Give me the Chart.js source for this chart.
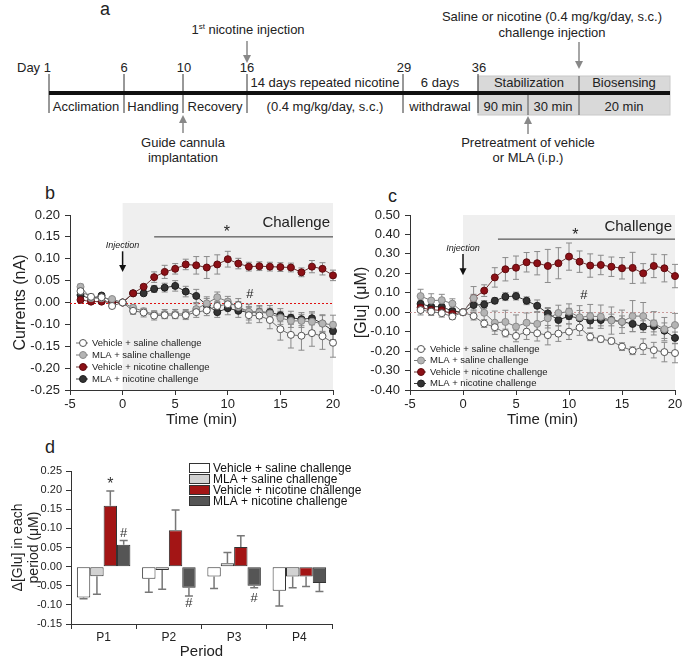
<!DOCTYPE html>
<html>
<head>
<meta charset="utf-8">
<script src="https://cdn.jsdelivr.net/npm/chart.js@4.4.1/dist/chart.umd.min.js"></script>
<style>
  html, body { margin: 0; padding: 0; background: #fff; }
  #page { position: relative; width: 685px; height: 661px; overflow: hidden;
          font-family: "Liberation Sans", Arial, sans-serif; color: #222; }
  .panel-label { position: absolute; font-size: 18px; line-height: 18px; }
  canvas { position: absolute; }
</style>
</head>
<body>
<div id="page">

  <!-- panel a: experimental timeline -->
  <svg width="685" height="175" style="position:absolute;left:0;top:0"
       font-family="'Liberation Sans', Arial, sans-serif" font-size="13" fill="#222">
    <text x="100" y="15" font-size="18">a</text>

    <text x="248" y="34" text-anchor="middle">1<tspan font-size="8" dy="-5">st</tspan><tspan dy="5"> nicotine injection</tspan></text>
    <line x1="247" y1="41" x2="247" y2="56" stroke="#888" stroke-width="1.5"/>
    <polygon points="243,55 251,55 247,63" fill="#888"/>

    <text x="552" y="21" text-anchor="middle">Saline or nicotine (0.4 mg/kg/day, s.c.)</text>
    <text x="552" y="37" text-anchor="middle">challenge injection</text>
    <line x1="579" y1="42" x2="579" y2="62" stroke="#888" stroke-width="1.5"/>
    <polygon points="575,61 583,61 579,69" fill="#888"/>

    <rect x="478" y="76" width="192" height="39" fill="#d9d9d9" stroke="#c8c8c8"/>
    <line x1="579" y1="76" x2="579" y2="115" stroke="#555"/>
    <line x1="528" y1="93" x2="528" y2="115" stroke="#555"/>

    <text x="17" y="72">Day 1</text>
    <text x="124" y="72" text-anchor="middle">6</text>
    <text x="184" y="72" text-anchor="middle">10</text>
    <text x="247" y="72" text-anchor="middle">16</text>
    <text x="404" y="72" text-anchor="middle">29</text>
    <text x="479" y="72" text-anchor="middle">36</text>

    <g stroke="#333" stroke-width="1">
      <line x1="49" y1="74" x2="49" y2="113"/>
      <line x1="124" y1="74" x2="124" y2="113"/>
      <line x1="183" y1="74" x2="183" y2="113"/>
      <line x1="247" y1="74" x2="247" y2="113"/>
      <line x1="403" y1="74" x2="403" y2="113"/>
      <line x1="478" y1="74" x2="478" y2="113"/>
    </g>
    <line x1="49" y1="93" x2="670" y2="93" stroke="#111" stroke-width="4"/>

    <text x="325" y="87" text-anchor="middle">14 days repeated nicotine</text>
    <text x="440" y="87" text-anchor="middle">6 days</text>
    <text x="529" y="87" text-anchor="middle">Stabilization</text>
    <text x="624" y="87" text-anchor="middle">Biosensing</text>

    <text x="86" y="111" text-anchor="middle">Acclimation</text>
    <text x="153" y="111" text-anchor="middle">Handling</text>
    <text x="215" y="111" text-anchor="middle">Recovery</text>
    <text x="325" y="111" text-anchor="middle">(0.4 mg/kg/day, s.c.)</text>
    <text x="440" y="111" text-anchor="middle">withdrawal</text>
    <text x="503" y="111" text-anchor="middle">90 min</text>
    <text x="553" y="111" text-anchor="middle">30 min</text>
    <text x="624" y="111" text-anchor="middle">20 min</text>

    <line x1="183" y1="133" x2="183" y2="122" stroke="#888" stroke-width="1.5"/>
    <polygon points="179,123 187,123 183,115" fill="#888"/>
    <text x="183" y="147" text-anchor="middle">Guide cannula</text>
    <text x="183" y="162" text-anchor="middle">implantation</text>

    <line x1="528" y1="134" x2="528" y2="123" stroke="#888" stroke-width="1.5"/>
    <polygon points="524,124 532,124 528,116" fill="#888"/>
    <text x="528" y="147" text-anchor="middle">Pretreatment of vehicle</text>
    <text x="528" y="162" text-anchor="middle">or MLA (i.p.)</text>
  </svg>

  <div class="panel-label" style="left:45px;top:184px">b</div>
  <div class="panel-label" style="left:388px;top:187px">c</div>
  <div class="panel-label" style="left:45px;top:438px">d</div>

  <canvas id="chartB" width="345" height="250" style="left:0;top:180px"></canvas>
  <canvas id="chartC" width="340" height="250" style="left:345px;top:180px"></canvas>
  <canvas id="chartD" width="380" height="221" style="left:0;top:440px"></canvas>
</div>

<script>
// time points (min) for panels b and c
const timeMin = [-4, -3, -2, -1, 0, 1, 2, 3, 4, 5, 6, 7, 8, 9, 10, 11, 12, 13, 14, 15, 16, 17, 18, 19, 20];

const seriesNames = [
  "Vehicle + saline challenge",
  "MLA + saline challenge",
  "Vehicle + nicotine challenge",
  "MLA + nicotine challenge",
];

// panel b: currents (nA), mean and SEM
const bVehSal = [0.026, 0.013, 0.012, -0.008, 0, -0.019, -0.023, -0.030, -0.029, -0.029, -0.029, -0.022, -0.018, -0.008, -0.004, -0.006, -0.029, -0.030, -0.040, -0.061, -0.074, -0.076, -0.070, -0.077, -0.092];
const bMlaSal = [0.036, 0.010, 0.010, 0.008, 0, -0.012, -0.020, -0.027, -0.026, -0.026, -0.026, -0.015, -0.002, 0.012, 0.002, -0.010, -0.021, -0.022, -0.025, -0.035, -0.042, -0.042, -0.044, -0.048, -0.051];
const bVehNic = [0.006, 0.002, 0.002, 0.000, 0, 0.021, 0.036, 0.058, 0.070, 0.077, 0.087, 0.085, 0.080, 0.087, 0.099, 0.089, 0.082, 0.083, 0.082, 0.081, 0.080, 0.069, 0.082, 0.077, 0.062];
const bMlaNic = [0.017, 0.008, 0.016, 0.002, 0, 0.021, 0.021, 0.031, 0.034, 0.038, 0.025, 0.015, -0.006, -0.022, -0.013, -0.019, -0.022, -0.022, -0.022, -0.029, -0.035, -0.038, -0.036, -0.048, -0.065];
const bVehSalErr = [0.008, 0.006, 0.005, 0.005, 0, 0.008, 0.010, 0.010, 0.008, 0.008, 0.010, 0.012, 0.012, 0.010, 0.012, 0.015, 0.018, 0.016, 0.020, 0.025, 0.030, 0.033, 0.030, 0.030, 0.033];
const bMlaSalErr = [0.006, 0.005, 0.005, 0.004, 0, 0.006, 0.006, 0.008, 0.010, 0.010, 0.010, 0.012, 0.015, 0.012, 0.012, 0.012, 0.012, 0.012, 0.012, 0.015, 0.015, 0.015, 0.020, 0.020, 0.022];
const bVehNicErr = [0.004, 0.004, 0.004, 0.003, 0, 0.004, 0.005, 0.012, 0.015, 0.012, 0.012, 0.020, 0.025, 0.022, 0.018, 0.012, 0.010, 0.010, 0.010, 0.010, 0.010, 0.010, 0.014, 0.014, 0.012];
const bMlaNicErr = [0.005, 0.004, 0.004, 0.003, 0, 0.005, 0.005, 0.008, 0.010, 0.012, 0.012, 0.015, 0.015, 0.012, 0.015, 0.015, 0.018, 0.015, 0.015, 0.015, 0.015, 0.015, 0.015, 0.018, 0.020];
// tick labels as printed on panel b (bottom to top)
const bTickLabels = ["-0.25", "-0.20", "-0.15", "-0.10", "0.00", "0.05", "0.10", "0.15", "0.20"];

// panel c: [Glu] (uM), mean and SEM
const cVehSal = [0.011, 0.003, -0.005, -0.022, 0, -0.020, -0.058, -0.077, -0.107, -0.122, -0.100, -0.108, -0.118, -0.110, -0.100, -0.079, -0.126, -0.138, -0.148, -0.177, -0.198, -0.177, -0.195, -0.205, -0.210];
const cMlaSal = [0.083, 0.060, 0.062, 0.044, 0, 0.072, -0.003, -0.054, -0.050, -0.074, -0.054, -0.060, -0.031, -0.004, 0.003, -0.026, -0.020, -0.023, -0.043, -0.049, -0.020, -0.020, -0.057, -0.087, -0.066];
const cVehNic = [0.024, 0.012, 0.010, -0.008, 0, 0.072, 0.111, 0.179, 0.221, 0.229, 0.257, 0.252, 0.238, 0.252, 0.286, 0.260, 0.240, 0.243, 0.234, 0.226, 0.228, 0.200, 0.238, 0.226, 0.186];
const cMlaNic = [0.043, 0.029, 0.028, 0.006, 0, 0.037, 0.040, 0.059, 0.080, 0.083, 0.059, 0.033, -0.006, -0.040, -0.020, -0.031, -0.043, -0.040, -0.040, -0.049, -0.060, -0.074, -0.071, -0.095, -0.132];
const cVehSalErr = [0.025, 0.020, 0.020, 0.015, 0, 0.020, 0.020, 0.020, 0.020, 0.030, 0.040, 0.040, 0.050, 0.040, 0.040, 0.040, 0.020, 0.015, 0.015, 0.020, 0.020, 0.040, 0.040, 0.050, 0.050];
const cMlaSalErr = [0.035, 0.035, 0.030, 0.025, 0, 0.060, 0.050, 0.060, 0.060, 0.060, 0.050, 0.060, 0.050, 0.040, 0.040, 0.060, 0.060, 0.060, 0.070, 0.060, 0.080, 0.070, 0.060, 0.060, 0.060];
const cVehNicErr = [0.020, 0.020, 0.020, 0.015, 0, 0.020, 0.030, 0.050, 0.060, 0.060, 0.050, 0.060, 0.085, 0.080, 0.070, 0.055, 0.060, 0.050, 0.050, 0.055, 0.080, 0.050, 0.060, 0.070, 0.060];
const cMlaNicErr = [0.020, 0.020, 0.020, 0.015, 0, 0.030, 0.020, 0.015, 0.020, 0.020, 0.020, 0.030, 0.030, 0.030, 0.040, 0.040, 0.040, 0.030, 0.030, 0.030, 0.040, 0.030, 0.030, 0.040, 0.030];

// panel d: change in [Glu] per period (uM), mean and SEM
const periods = ["P1", "P2", "P3", "P4"];
const dVehSal = [-0.081, -0.032, -0.026, -0.063];
const dMlaSal = [-0.025, -0.009, 0.009, -0.026];
const dVehNic = [0.159, 0.095, 0.051, -0.026];
const dMlaNic = [0.057, -0.055, -0.050, -0.043];
const dVehSalErr = [0.003, 0.035, 0.031, 0.040];
const dMlaSalErr = [0.047, 0.050, 0.028, 0.029];
const dVehNicErr = [0.039, 0.053, 0.030, 0.026];
const dMlaNicErr = [0.011, 0.022, 0.005, 0.022];

// ---- look ----
Chart.defaults.font.family = "'Liberation Sans', Arial, sans-serif";
Chart.defaults.color = "#222";

const seriesStyle = [
  { fill: "#ffffff", edge: "#555555", line: "#707070" },
  { fill: "#b4b4b4", edge: "#8a8a8a", line: "#777777" },
  { fill: "#8c1016", edge: "#5e0a0e", line: "#6a3434" },
  { fill: "#333333", edge: "#1e1e1e", line: "#3a3a3a" },
];
const barColors = ["#ffffff", "#d2d2d2", "#a31515", "#555555"];

function lineDataset(i, vals, errs) {
  const s = seriesStyle[i];
  return {
    label: seriesNames[i],
    data: vals.map((v, j) => ({ x: timeMin[j], y: v })),
    errors: errs,
    borderColor: s.line,
    borderWidth: 1,
    backgroundColor: s.fill,
    pointBackgroundColor: s.fill,
    pointBorderColor: s.edge,
    pointBorderWidth: 1,
    pointRadius: 3.5,
    tension: 0,
    clip: false,
  };
}

// shading, zero line, error bars and labels of the time-course panels
const timeCoursePlugin = {
  id: "timeCourse",
  beforeDraw(chart, args, o) {
    const { ctx, chartArea: a, scales: { x } } = chart;
    const x0 = x.getPixelForValue(0);
    ctx.save();
    ctx.fillStyle = "#efefef";
    ctx.fillRect(x0, a.top - o.shadeAbove, a.right - x0, a.bottom - a.top + o.shadeAbove);
    ctx.restore();
  },
  beforeDatasetsDraw(chart, args, o) {
    const { ctx, chartArea: a, scales: { y } } = chart;
    ctx.save();
    const y0 = Math.round(y.getPixelForValue(0)) + 0.5;
    ctx.strokeStyle = o.zeroColor;
    ctx.lineWidth = 1;
    ctx.setLineDash([2, 2]);
    ctx.beginPath();
    ctx.moveTo(a.left, y0);
    ctx.lineTo(a.right, y0);
    ctx.stroke();
    ctx.setLineDash([]);

    ctx.strokeStyle = "#8a8a8a";
    chart.data.datasets.forEach((ds, i) => {
      chart.getDatasetMeta(i).data.forEach((pt, j) => {
        const e = ds.errors[j];
        if (!e) return;
        const v = ds.data[j].y;
        const yt = y.getPixelForValue(v + e);
        const yb = y.getPixelForValue(v - e);
        ctx.beginPath();
        ctx.moveTo(pt.x, yt); ctx.lineTo(pt.x, yb);
        ctx.moveTo(pt.x - 3, yt); ctx.lineTo(pt.x + 3, yt);
        ctx.moveTo(pt.x - 3, yb); ctx.lineTo(pt.x + 3, yb);
        ctx.stroke();
      });
    });
    ctx.restore();
  },
  afterDatasetsDraw(chart, args, o) {
    const { ctx, chartArea: a, scales: { x, y } } = chart;
    ctx.save();
    ctx.fillStyle = "#222";
    ctx.textBaseline = "middle";

    // "Challenge"
    ctx.font = "15px 'Liberation Sans', Arial";
    ctx.textAlign = "right";
    ctx.fillText("Challenge", a.right - 3, a.top + o.challengeDy);

    // significance bar with asterisk
    const ys = y.getPixelForValue(o.sig.y);
    ctx.strokeStyle = "#333";
    ctx.lineWidth = 1;
    ctx.beginPath();
    ctx.moveTo(x.getPixelForValue(o.sig.from), ys);
    ctx.lineTo(x.getPixelForValue(o.sig.to), ys);
    ctx.stroke();
    ctx.textAlign = "center";
    ctx.font = "16px 'Liberation Sans', Arial";
    ctx.fillText("*", x.getPixelForValue(o.sig.starX), ys - 4);
    ctx.font = "13px 'Liberation Sans', Arial";
    ctx.fillText("#", x.getPixelForValue(o.hash.x), y.getPixelForValue(o.hash.y));

    // injection arrow
    const xi = x.getPixelForValue(0);
    ctx.font = "italic 9px 'Liberation Sans', Arial";
    ctx.fillText("Injection", xi, y.getPixelForValue(o.inj.textY));
    const y1 = y.getPixelForValue(o.inj.from);
    const y2 = y.getPixelForValue(o.inj.to);
    ctx.strokeStyle = "#111";
    ctx.lineWidth = 1.5;
    ctx.beginPath();
    ctx.moveTo(xi, y1); ctx.lineTo(xi, y2 - 5);
    ctx.stroke();
    ctx.fillStyle = "#111";
    ctx.beginPath();
    ctx.moveTo(xi - 3.5, y2 - 7); ctx.lineTo(xi + 3.5, y2 - 7); ctx.lineTo(xi, y2);
    ctx.closePath();
    ctx.fill();

    // legend inside the plot
    ctx.font = "9.5px 'Liberation Sans', Arial";
    ctx.textAlign = "left";
    chart.data.datasets.forEach((ds, i) => {
      const s = seriesStyle[i];
      const lx = a.left + o.legend.x;
      const ly = a.bottom - o.legend.bottom + i * o.legend.gap;
      ctx.strokeStyle = s.line;
      ctx.lineWidth = 1;
      ctx.beginPath();
      ctx.moveTo(lx - 7, ly); ctx.lineTo(lx + 5, ly);
      ctx.stroke();
      ctx.beginPath();
      ctx.arc(lx, ly, 3.5, 0, Math.PI * 2);
      ctx.fillStyle = s.fill;
      ctx.fill();
      ctx.strokeStyle = s.edge;
      ctx.stroke();
      ctx.fillStyle = "#222";
      ctx.fillText(ds.label, lx + 9, ly);
    });
    ctx.restore();
  },
};

function axisStyle(extra) {
  return Object.assign({
    grid: { drawOnChartArea: false, tickLength: 5, color: "#333" },
    border: { color: "#333" },
  }, extra);
}

// panel b
new Chart(document.getElementById("chartB"), {
  type: "line",
  data: {
    datasets: [
      lineDataset(0, bVehSal, bVehSalErr),
      lineDataset(1, bMlaSal, bMlaSalErr),
      lineDataset(2, bVehNic, bVehNicErr),
      lineDataset(3, bMlaNic, bMlaNicErr),
    ],
  },
  options: {
    responsive: false,
    animation: false,
    layout: { padding: { top: 35, right: 12, bottom: 0, left: 0 } },
    plugins: {
      legend: { display: false },
      tooltip: { enabled: false },
      timeCourse: {
        shadeAbove: 12,
        zeroColor: "#e01010",
        challengeDy: 8,
        sig: { from: 3, to: 20, y: 0.15, starX: 9.9 },
        hash: { x: 12.1, y: 0.019 },
        inj: { textY: 0.131, from: 0.117, to: 0.070 },
        legend: { x: 13, bottom: 47, gap: 12 },
      },
    },
    scales: {
      x: axisStyle({
        type: "linear", min: -5, max: 20,
        ticks: { stepSize: 5, font: { size: 13 }, padding: 2 },
        title: { display: true, text: "Time (min)", font: { size: 15 }, padding: { bottom: 1 } },
        afterFit: (s) => { s.height = 40; },
      }),
      y: axisStyle({
        min: -0.2, max: 0.2,
        ticks: { stepSize: 0.05, font: { size: 13 }, padding: 5, callback: (v, i) => bTickLabels[i] },
        title: { display: true, text: "Currents (nA)", font: { size: 16 }, padding: { top: 11 } },
        afterFit: (s) => { s.width = 70; },
      }),
    },
  },
  plugins: [timeCoursePlugin],
});

// panel c
new Chart(document.getElementById("chartC"), {
  type: "line",
  data: {
    datasets: [
      lineDataset(0, cVehSal, cVehSalErr),
      lineDataset(1, cMlaSal, cMlaSalErr),
      lineDataset(2, cVehNic, cVehNicErr),
      lineDataset(3, cMlaNic, cMlaNicErr),
    ],
  },
  options: {
    responsive: false,
    animation: false,
    layout: { padding: { top: 35, right: 10, bottom: 0, left: 0 } },
    plugins: {
      legend: { display: false },
      tooltip: { enabled: false },
      timeCourse: {
        shadeAbove: 0,
        zeroColor: "#c99a9a",
        challengeDy: 12,
        sig: { from: 3.3, to: 20, y: 0.376, starX: 10.6 },
        hash: { x: 11.4, y: 0.088 },
        inj: { textY: 0.33, from: 0.30, to: 0.19 },
        legend: { x: 11, bottom: 41, gap: 11.5 },
      },
    },
    scales: {
      x: axisStyle({
        type: "linear", min: -5, max: 20,
        ticks: { stepSize: 5, font: { size: 13 }, padding: 2 },
        title: { display: true, text: "Time (min)", font: { size: 15 }, padding: { bottom: 1 } },
        afterFit: (s) => { s.height = 40; },
      }),
      y: axisStyle({
        min: -0.4, max: 0.5,
        ticks: { stepSize: 0.1, font: { size: 13 }, padding: 5, callback: (v) => v.toFixed(2) },
        title: { display: true, text: "[Glu] (μM)", font: { size: 16 }, padding: { top: 7 } },
        afterFit: (s) => { s.width = 65; },
      }),
    },
  },
  plugins: [timeCoursePlugin],
});

// error bars, marks and legend for the bar panel
const barExtrasPlugin = {
  id: "barExtras",
  afterDatasetsDraw(chart, args, o) {
    const { ctx, scales: { y } } = chart;
    ctx.save();
    ctx.strokeStyle = "#777";
    ctx.lineWidth = 1.5;
    chart.data.datasets.forEach((ds, i) => {
      chart.getDatasetMeta(i).data.forEach((bar, j) => {
        const v = ds.data[j];
        const e = ds.errors[j];
        const ye = y.getPixelForValue(v + Math.sign(v) * e);
        ctx.beginPath();
        ctx.moveTo(bar.x, y.getPixelForValue(v));
        ctx.lineTo(bar.x, ye);
        ctx.moveTo(bar.x - 4, ye); ctx.lineTo(bar.x + 4, ye);
        ctx.stroke();
      });
    });

    ctx.fillStyle = "#333";
    ctx.textAlign = "center";
    ctx.textBaseline = "middle";
    o.marks.forEach((m) => {
      const bar = chart.getDatasetMeta(m.ds).data[m.idx];
      ctx.font = m.text === "*" ? "16px 'Liberation Sans', Arial" : "13px 'Liberation Sans', Arial";
      ctx.fillText(m.text, bar.x, y.getPixelForValue(m.y));
    });

    // legend
    ctx.font = "12px 'Liberation Sans', Arial";
    ctx.textAlign = "left";
    ctx.lineWidth = 1;
    chart.data.datasets.forEach((ds, i) => {
      const ly = o.legend.y + i * o.legend.gap;
      ctx.fillStyle = ds.backgroundColor;
      ctx.fillRect(o.legend.x, ly - 4.5, 20, 9);
      ctx.strokeStyle = "#333";
      ctx.strokeRect(o.legend.x + 0.5, ly - 4.5, 20, 9);
      ctx.fillStyle = "#111";
      ctx.fillText(ds.label, o.legend.x + 24, ly + 0.5);
    });
    ctx.restore();
  },
};

function barDataset(i, vals, errs) {
  return {
    label: seriesNames[i],
    data: vals,
    errors: errs,
    backgroundColor: barColors[i],
    borderColor: "#333",
    borderWidth: 1,
    borderSkipped: false,
  };
}

// panel d
new Chart(document.getElementById("chartD"), {
  type: "bar",
  data: {
    labels: periods,
    datasets: [
      barDataset(0, dVehSal, dVehSalErr),
      barDataset(1, dMlaSal, dMlaSalErr),
      barDataset(2, dVehNic, dVehNicErr),
      barDataset(3, dMlaNic, dMlaNicErr),
    ],
  },
  options: {
    responsive: false,
    animation: false,
    categoryPercentage: 0.82,
    barPercentage: 1.0,
    layout: { padding: { top: 31, right: 48, bottom: 0, left: 0 } },
    plugins: {
      legend: { display: false },
      tooltip: { enabled: false },
      barExtras: {
        marks: [
          { ds: 2, idx: 0, y: 0.215, text: "*" },
          { ds: 3, idx: 0, y: 0.088, text: "#" },
          { ds: 3, idx: 1, y: -0.097, text: "#" },
          { ds: 3, idx: 2, y: -0.084, text: "#" },
        ],
        legend: { x: 189, y: 28, gap: 11 },
      },
    },
    scales: {
      x: axisStyle({
        grid: { drawOnChartArea: false, offset: true, tickLength: 5, color: "#333" },
        ticks: { font: { size: 12 }, padding: 1 },
        title: { display: true, text: "Period", font: { size: 15 }, padding: { bottom: 0 } },
        afterFit: (s) => { s.height = 37; },
      }),
      y: axisStyle({
        min: -0.15, max: 0.25,
        ticks: { stepSize: 0.05, font: { size: 11 }, padding: 4, callback: (v) => v.toFixed(2) },
        title: { display: true, text: ["Δ[Glu] in each", "period (μM)"], font: { size: 14, lineHeight: 1.15 }, padding: { top: 10 } },
        afterFit: (s) => { s.width = 71; },
      }),
    },
  },
  plugins: [barExtrasPlugin],
});
</script>
</body>
</html>
